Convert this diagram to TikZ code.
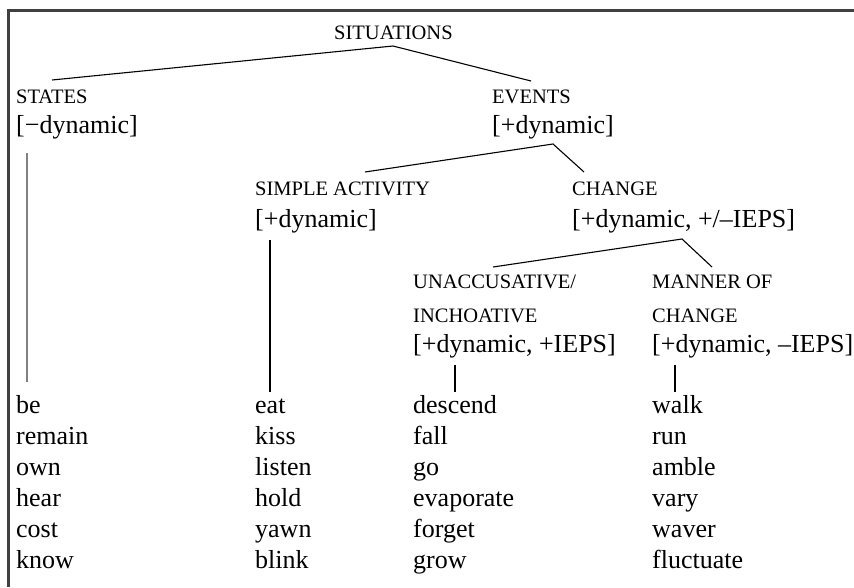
\documentclass[tikz,border=0pt]{standalone}
\usepackage{fontspec}
\setmainfont{Liberation Serif}
\usetikzlibrary{positioning}

\begin{document}
\begin{tikzpicture}[
    x=1pt, y=-1pt,
    cat/.style={
        anchor=base west, inner sep=0pt, font=\fontsize{20.5}{24}\selectfont
    },
    feat/.style={
        anchor=base west, inner sep=0pt, font=\fontsize{26}{31}\selectfont
    },
    word/.style={
        anchor=base west, inner sep=0pt, font=\fontsize{26}{31}\selectfont
    },
    branch/.style={draw=black, line width=1.1pt},
    frame/.style={draw=black!75, line width=3pt}
]
\useasboundingbox (0,0) rectangle (854,587);

% Frame
\draw[frame] (8,587) -- (8,10) -- (854,10);

% Categories
\node[cat] (sit) at (334,39) {SITUATIONS};
\node[cat] (states) at (16,103) {STATES};
\node[below=30pt of states.base west, feat] (statesf) {[−dynamic]};
\node[cat] (events) at (492,103) {EVENTS};
\node[below=30pt of events.base west, feat] (eventsf) {[+dynamic]};
\node[cat] (simple) at (255,195) {SIMPLE ACTIVITY};
\node[below=32pt of simple.base west, feat] (simplef) {[+dynamic]};
\node[cat] (change) at (572,195) {CHANGE};
\node[below=32pt of change.base west, feat] (changef) {[+dynamic, +/–IEPS]};
\node[cat] (unacc) at (413,288) {UNACCUSATIVE/};
\node[below=34pt of unacc.base west, cat] (inch) {INCHOATIVE};
\node[below=30pt of inch.base west, feat] (unaccf) {[+dynamic, +IEPS]};
\node[cat] (manner) at (652,288) {MANNER OF};
\node[below=34pt of manner.base west, cat] (mchange) {CHANGE};
\node[below=30pt of mchange.base west, feat] (mannerf) {[+dynamic, –IEPS]};

% Verb lists
\foreach \w [count=\i] in {be,remain,own,hear,cost,know}
    \node[word] (st\i) at (16,382+31*\i) {\w};
\foreach \w [count=\i] in {eat,kiss,listen,hold,yawn,blink}
    \node[word] (sa\i) at (255,382+31*\i) {\w};
\foreach \w [count=\i] in {descend,fall,go,evaporate,forget,grow}
    \node[word] (un\i) at (413,382+31*\i) {\w};
\foreach \w [count=\i] in {walk,run,amble,vary,waver,fluctuate}
    \node[word] (mc\i) at (652,382+31*\i) {\w};

% Tree branches
\draw[branch] ([xshift=36pt,yshift=23pt]states.base west)
    -- ([xshift=59pt,yshift=-7pt]sit.base west)
    -- ([xshift=39pt,yshift=22pt]events.base west);
\draw[branch] ([xshift=110pt,yshift=23pt]simple.base west)
    -- ([xshift=61pt,yshift=-11pt]eventsf.base west)
    -- ([xshift=12pt,yshift=23pt]change.base west);
\draw[branch] ([xshift=80pt,yshift=21pt]unacc.base west)
    -- ([xshift=110pt,yshift=-12pt]changef.base west)
    -- ([xshift=60pt,yshift=21pt]manner.base west);

% Down to the verb lists
\draw[branch, draw=gray] ([xshift=11pt,yshift=-20pt]statesf.base west) -- ([xshift=11pt,yshift=31pt]st1.base west);
\draw[branch] ([xshift=15pt,yshift=-13pt]simplef.base west) -- ([xshift=15pt,yshift=21pt]sa1.base west);
\draw[branch] ([xshift=42pt,yshift=-13pt]unaccf.base west) -- ([xshift=42pt,yshift=21pt]un1.base west);
\draw[branch] ([xshift=23pt,yshift=-13pt]mannerf.base west) -- ([xshift=23pt,yshift=21pt]mc1.base west);

\end{tikzpicture}
\end{document}
